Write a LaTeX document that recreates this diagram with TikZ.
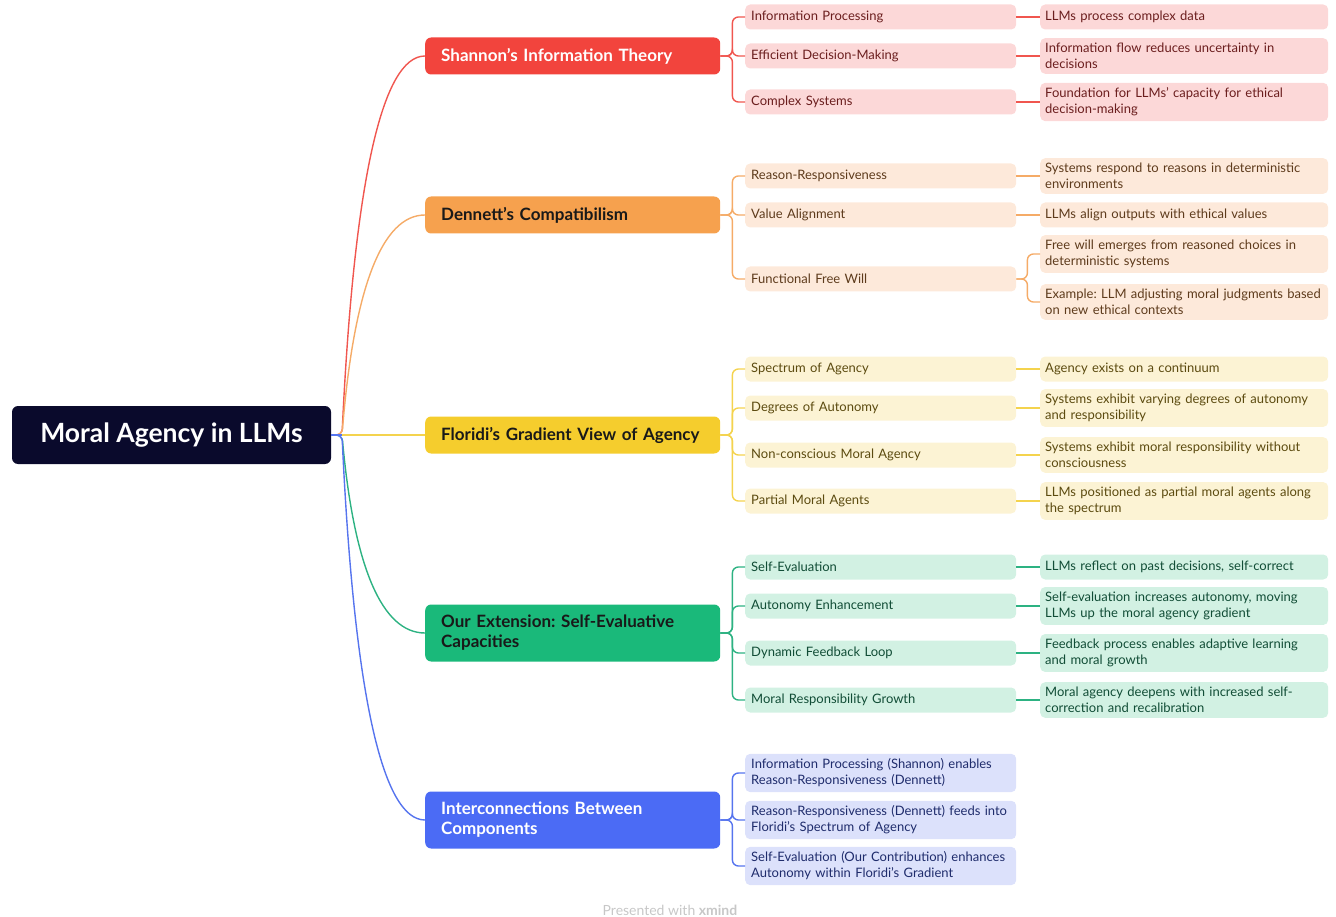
\documentclass[tikz,border=0pt]{standalone}
\usepackage{fontspec}
\setmainfont{Lato}
\usetikzlibrary{calc}
\definecolor{rootC}{HTML}{0A0A2C}
\definecolor{redM}{HTML}{F2443D}\definecolor{redL}{HTML}{F0564F}\definecolor{redF}{HTML}{FCD8D8}\definecolor{redT}{HTML}{6B1E1E}
\definecolor{oraM}{HTML}{F6A14E}\definecolor{oraL}{HTML}{F5AB67}\definecolor{oraF}{HTML}{FDE9DA}\definecolor{oraT}{HTML}{5E3B1C}
\definecolor{yelM}{HTML}{F5CD2D}\definecolor{yelL}{HTML}{F4D34E}\definecolor{yelF}{HTML}{FCF3D4}\definecolor{yelT}{HTML}{5C4B10}
\definecolor{grnM}{HTML}{1AB97A}\definecolor{grnL}{HTML}{2DB282}\definecolor{grnF}{HTML}{D2F1E3}\definecolor{grnT}{HTML}{114D36}
\definecolor{bluM}{HTML}{4B6BF5}\definecolor{bluL}{HTML}{5674EE}\definecolor{bluF}{HTML}{DCE1FB}\definecolor{bluT}{HTML}{1F2C6C}
\frenchspacing
\begin{document}
\begin{tikzpicture}[x=1pt,y=-1pt,
  rootbox/.style={fill=rootC,rounded corners=6pt,minimum width=319pt,minimum height=58pt,text=white,font=\bfseries\fontsize{26.5}{31}\selectfont},
  mainbox/.style={rounded corners=6pt,anchor=west,minimum width=295pt,text width=263pt,inner xsep=16pt,inner ysep=6pt,minimum height=37pt,align=left,font=\bfseries\fontsize{17}{20}\selectfont},
  subbox/.style={rounded corners=5pt,anchor=west,minimum width=271pt,text width=259pt,inner xsep=6pt,inner ysep=5pt,minimum height=25pt,align=left,font=\fontsize{13}{16}\selectfont},
  leafbox/.style={subbox,minimum width=288pt,text width=278pt,inner xsep=5pt},
  redS/.style={subbox,fill=redF,text=redT}, redLf/.style={leafbox,fill=redF,text=redT},
  oraS/.style={subbox,fill=oraF,text=oraT}, oraLf/.style={leafbox,fill=oraF,text=oraT},
  yelS/.style={subbox,fill=yelF,text=yelT}, yelLf/.style={leafbox,fill=yelF,text=yelT},
  grnS/.style={subbox,fill=grnF,text=grnT}, grnLf/.style={leafbox,fill=grnF,text=grnT},
  bluS/.style={subbox,fill=bluF,text=bluT},
  conn/.style={line width=1.4pt,rounded corners=6pt},
]
\useasboundingbox (0,0) rectangle (1336,917);

% root
\node[rootbox] (root) at (171.5,435) {Moral Agency in LLMs};
\coordinate (j) at (342,435);

% main nodes
\node[mainbox,fill=redM,text=white] (sh) at (425,56) {Shannon’s Information Theory};
\node[mainbox,fill=oraM,text=black!90] (de) at (425,215) {Dennett’s Compatibilism};
\node[mainbox,fill=yelM,text=black!90] (fl) at (425,435) {Floridi’s Gradient View of Agency};
\node[mainbox,fill=grnM,text=black!90,minimum height=57pt] (ex) at (425,633) {Our Extension: Self-Evaluative\\Capacities};
\node[mainbox,fill=bluM,text=white,minimum height=57pt] (ic) at (425,820) {Interconnections Between\\Components};

% Shannon
\node[redS] (s11) at (745,17) {Information Processing};
\node[redS] (s12) at (745,56) {Efficient Decision-Making};
\node[redS] (s13) at (745,102) {Complex Systems};
\node[redLf] (l11) at (1040,17) {LLMs process complex data};
\node[redLf] (l12) at (1040,56) {Information flow reduces uncertainty in\\decisions};
\node[redLf] (l13) at (1040,102) {Foundation for LLMs’ capacity for ethical\\decision-making};

% Dennett
\node[oraS] (s21) at (745,176) {Reason-Responsiveness};
\node[oraS] (s22) at (745,215) {Value Alignment};
\node[oraS] (s23) at (745,279) {Functional Free Will};
\node[oraLf] (l21) at (1040,176) {Systems respond to reasons in deterministic\\environments};
\node[oraLf] (l22) at (1040,215) {LLMs align outputs with ethical values};
\node[oraLf] (l23a) at (1040,254) {Free will emerges from reasoned choices in\\deterministic systems};
\node[oraLf] (l23b) at (1040,302) {Example: LLM adjusting moral judgments based\\on new ethical contexts};

% Floridi
\node[yelS] (s31) at (745,369) {Spectrum of Agency};
\node[yelS] (s32) at (745,408) {Degrees of Autonomy};
\node[yelS] (s33) at (745,455) {Non-conscious Moral Agency};
\node[yelS] (s34) at (745,501) {Partial Moral Agents};
\node[yelLf] (l31) at (1040,369) {Agency exists on a continuum};
\node[yelLf] (l32) at (1040,408) {Systems exhibit varying degrees of autonomy\\and responsibility};
\node[yelLf] (l33) at (1040,455) {Systems exhibit moral responsibility without\\consciousness};
\node[yelLf] (l34) at (1040,501) {LLMs positioned as partial moral agents along\\the spectrum};

% Extension
\node[grnS] (s41) at (745,567) {Self-Evaluation};
\node[grnS] (s42) at (745,606) {Autonomy Enhancement};
\node[grnS] (s43) at (745,653) {Dynamic Feedback Loop};
\node[grnS] (s44) at (745,700) {Moral Responsibility Growth};
\node[grnLf] (l41) at (1040,567) {LLMs reflect on past decisions, self-correct};
\node[grnLf] (l42) at (1040,606) {Self-evaluation increases autonomy, moving\\LLMs up the moral agency gradient};
\node[grnLf] (l43) at (1040,653) {Feedback process enables adaptive learning\\and moral growth};
\node[grnLf] (l44) at (1040,700) {Moral agency deepens with increased self-\\correction and recalibration};

% Interconnections
\node[bluS] (s51) at (745,773) {Information Processing (Shannon) enables\\Reason-Responsiveness (Dennett)};
\node[bluS] (s52) at (745,820) {Reason-Responsiveness (Dennett) feeds into\\Floridi’s Spectrum of Agency};
\node[bluS] (s53) at (745,866) {Self-Evaluation (Our Contribution) enhances\\Autonomy within Floridi’s Gradient};

% root -> main connectors
\draw[conn,redL] (root.east) -- (j) .. controls +(12,-253) and +(-43,0) .. (sh.west);
\draw[conn,oraL] (root.east) -- (j) .. controls +(12,-147) and +(-43,0) .. (de.west);
\draw[conn,grnL] (root.east) -- (j) .. controls +(12,132) and +(-43,0) .. (ex.west);
\draw[conn,bluL] (root.east) -- (j) .. controls +(12,257) and +(-43,0) .. (ic.west);
\draw[conn,yelL] (j) -- (fl.west);
\draw[conn,bluL] (root.east) -- (j);

% main -> sub
\foreach \s in {s11,s12,s13} \draw[conn,redL] (sh.east) -- ++(12,0) |- (\s.west);
\foreach \s in {s21,s22,s23} \draw[conn,oraL] (de.east) -- ++(12,0) |- (\s.west);
\foreach \s in {s31,s32,s33,s34} \draw[conn,yelL] (fl.east) -- ++(12,0) |- (\s.west);
\foreach \s in {s41,s42,s43,s44} \draw[conn,grnL] (ex.east) -- ++(12,0) |- (\s.west);
\foreach \s in {s51,s52,s53} \draw[conn,bluL] (ic.east) -- ++(12,0) |- (\s.west);

% sub -> leaf
\draw[conn,redL] (s11.east) -- (l11.west);
\draw[conn,redL] (s12.east) -- (l12.west);
\draw[conn,redL] (s13.east) -- (l13.west);
\draw[conn,oraL] (s21.east) -- (l21.west);
\draw[conn,oraL] (s22.east) -- (l22.west);
\draw[conn,oraL] (s23.east) -- ++(11,0) |- (l23a.west);
\draw[conn,oraL] (s23.east) -- ++(11,0) |- (l23b.west);
\draw[conn,yelL] (s31.east) -- (l31.west);
\draw[conn,yelL] (s32.east) -- (l32.west);
\draw[conn,yelL] (s33.east) -- (l33.west);
\draw[conn,yelL] (s34.east) -- (l34.west);
\draw[conn,grnL] (s41.east) -- (l41.west);
\draw[conn,grnL] (s42.east) -- (l42.west);
\draw[conn,grnL] (s43.east) -- (l43.west);
\draw[conn,grnL] (s44.east) -- (l44.west);

% footer
\node[text=black!22,font=\fontsize{14}{16}\selectfont] (ft) at (670,910) {Presented with \textbf{xmind}};
\end{tikzpicture}
\end{document}
